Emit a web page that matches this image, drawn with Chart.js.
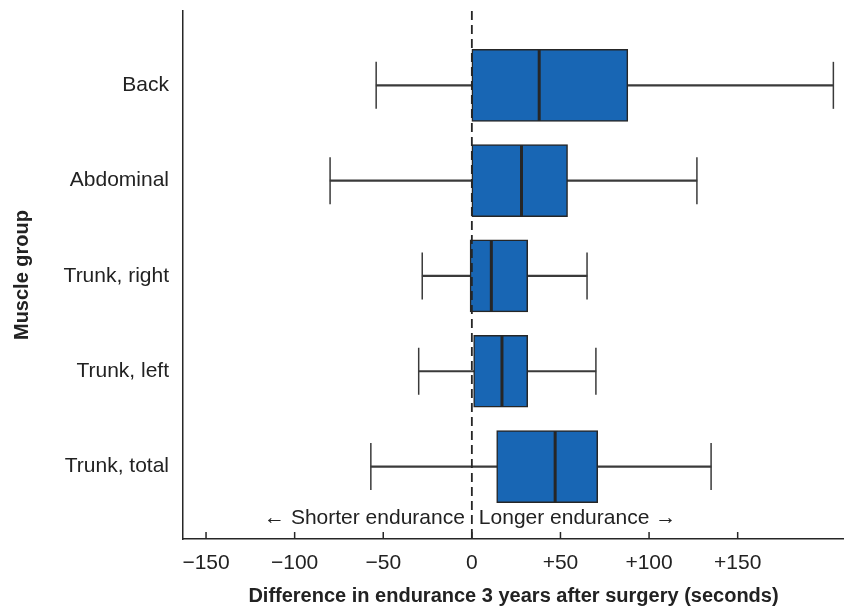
<!DOCTYPE html>
<html>
<head>
<meta charset="utf-8">
<script src="https://cdn.jsdelivr.net/npm/chart.js@4/dist/chart.umd.min.js"></script>
<style>
  html, body { margin: 0; padding: 0; background: #fff; }
  #wrap { width: 844px; height: 608px; }
</style>
</head>
<body>
<div id="wrap"><canvas id="boxChart"></canvas></div>
<script>
// values (seconds)
const categories = ["Back", "Abdominal", "Trunk, right", "Trunk, left", "Trunk, total"];
const whiskerLow = [-54, -80, -28, -30, -57];
const q1 = [0, 0, -1, 1, 14];
const median = [38, 28, 11, 17, 47];
const q3 = [88, 54, 31.5, 31.5, 71];
const whiskerHigh = [204, 127, 65, 70, 135];
const xTicks = [-150, -100, -50, 0, 50, 100, 150];

const BLUE = "#1866b4";
const INK = "#262626";
const WHISKER = "#3a3a3a";

Chart.defaults.font.family = "'Liberation Sans', Arial, sans-serif";
Chart.defaults.font.size = 21;
Chart.defaults.color = "#222";

const rowPos = categories.map((c, i) => i + 1);

/** arrow annotations + inward tick marks */
const extras = {
  id: "extras",
  afterDatasetsDraw(chart) {
    const { ctx, scales: { x, y }, chartArea } = chart;
    ctx.save();
    ctx.strokeStyle = INK;
    ctx.lineWidth = 1.5;
    xTicks.forEach(v => {
      const px = x.getPixelForValue(v);
      ctx.beginPath();
      ctx.moveTo(px, chartArea.bottom);
      ctx.lineTo(px, chartArea.bottom - 7);
      ctx.stroke();
    });
    const x0 = x.getPixelForValue(0);
    const ty = y.getPixelForValue(5.54);
    ctx.font = "21px 'Liberation Sans', Arial, sans-serif";
    ctx.fillStyle = "#222";
    ctx.textBaseline = "middle";
    ctx.textAlign = "right";
    ctx.fillText("\u2190 Shorter endurance", x0 - 7, ty);
    ctx.textAlign = "left";
    ctx.fillText("Longer endurance \u2192", x0 + 7, ty);
    ctx.restore();
  }
};

new Chart(document.getElementById("boxChart"), {
  type: "bar",
  data: {
    datasets: [
      {
        label: "whisker",
        indexAxis: "y",
        grouped: false,
        data: rowPos.map((p, i) => ({ x: [whiskerLow[i], whiskerHigh[i]], y: p })),
        backgroundColor: WHISKER,
        borderWidth: 0,
        barThickness: 1.5,
        order: 5
      },
      {
        label: "box",
        indexAxis: "y",
        grouped: false,
        data: rowPos.map((p, i) => ({ x: [q1[i], q3[i]], y: p })),
        backgroundColor: BLUE,
        borderColor: INK,
        borderWidth: 1.5,
        borderSkipped: false,
        barThickness: 72,
        order: 4
      },
      {
        label: "caps",
        type: "scatter",
        data: rowPos.flatMap((p, i) => [{ x: whiskerLow[i], y: p }, { x: whiskerHigh[i], y: p }]),
        pointStyle: "line",
        rotation: 90,
        radius: 23.5,
        borderColor: WHISKER,
        borderWidth: 1.5,
        order: 3
      },
      {
        label: "median",
        type: "scatter",
        data: rowPos.map((p, i) => ({ x: median[i], y: p })),
        pointStyle: "line",
        rotation: 90,
        radius: 35.5,
        borderColor: INK,
        borderWidth: 3,
        order: 2
      },
      {
        label: "zero",
        type: "line",
        data: [{ x: 0, y: 0.22 }, { x: 0, y: 5.76 }],
        borderColor: INK,
        borderWidth: 1.8,
        borderDash: [9, 5],
        pointRadius: 0,
        fill: false,
        order: 1
      }
    ]
  },
  options: {
    responsive: true,
    maintainAspectRatio: false,
    animation: false,
    events: [],
    layout: { autoPadding: false, padding: { top: 11, right: 0, left: 0, bottom: 0 } },
    plugins: { legend: { display: false }, tooltip: { enabled: false } },
    scales: {
      x: {
        type: "linear",
        min: -163,
        max: 210,
        offset: false,
        afterBuildTicks: s => { s.ticks = xTicks.map(v => ({ value: v })); },
        afterFit: s => { s.height = 69; s.paddingLeft = 0; s.paddingRight = 0; },
        grid: { display: false, drawTicks: false },
        border: { display: true, color: INK, width: 1.5 },
        ticks: {
          padding: 12,
          maxRotation: 0,
          callback: v => v === 0 ? "0" : v > 0 ? "+" + v : "\u2212" + Math.abs(v)
        },
        title: {
          display: true,
          text: "Difference in endurance 3 years after surgery (seconds)",
          font: { size: 20, weight: "bold" },
          padding: { top: 0, bottom: 0 }
        }
      },
      y: {
        type: "linear",
        reverse: true,
        offset: false,
        min: 0.22,
        max: 5.76,
        afterBuildTicks: s => { s.ticks = rowPos.map(v => ({ value: v })); },
        afterFit: s => { s.width = 183; s.paddingTop = 0; s.paddingBottom = 0; },
        grid: { display: false, drawTicks: false, offset: false },
        border: { display: true, color: INK, width: 1.5 },
        ticks: {
          padding: 14,
          callback: v => categories[v - 1]
        },
        title: {
          display: true,
          text: "Muscle group",
          font: { size: 20, weight: "bold" },
          padding: { top: 10, bottom: 0 }
        }
      }
    }
  },
  plugins: [extras]
});
</script>
</body>
</html>
